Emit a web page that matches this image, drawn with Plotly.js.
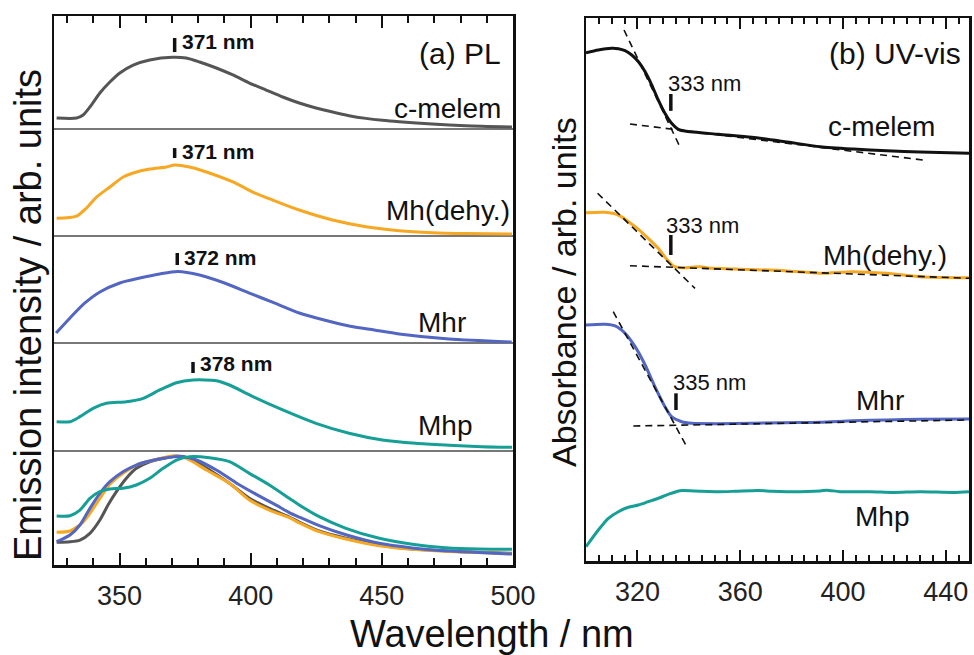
<!DOCTYPE html>
<html>
<head>
<meta charset="utf-8">
<script src="https://cdn.plot.ly/plotly-3.0.1.min.js"></script>
<style>html,body{margin:0;padding:0;background:#fff;}#chart{width:974px;height:655px;}</style>
</head>
<body>
<div id="chart"></div>
<script>
// ---------- (a) PL data : wavelength (nm) and emission intensity (arb. units, per strip) ----------
const plCmelemNm  = [326.0, 333.6, 336.1, 338.7, 342.5, 346.3, 350.1, 355.2, 361.5, 370.2, 375.4, 380.5, 386.9, 393.2, 399.5, 405.9, 412.2, 418.5, 424.9, 431.2, 437.5, 443.9, 450.2, 456.6, 469.2, 481.9, 499.6];
const plCmelemInt = [0.097, 0.097, 0.124, 0.195, 0.319, 0.416, 0.496, 0.566, 0.611, 0.635, 0.628, 0.593, 0.540, 0.478, 0.407, 0.345, 0.283, 0.230, 0.186, 0.150, 0.118, 0.094, 0.077, 0.064, 0.044, 0.029, 0.018];

const plMhdehyNm  = [326.0, 333.6, 337.4, 341.2, 346.3, 351.4, 355.2, 361.5, 367.9, 371.0, 376.7, 383.1, 393.2, 400.8, 408.4, 418.5, 431.2, 443.9, 456.6, 469.2, 481.9, 499.6];
const plMhdehyInt = [0.165, 0.185, 0.262, 0.364, 0.458, 0.551, 0.589, 0.626, 0.645, 0.664, 0.645, 0.598, 0.505, 0.411, 0.336, 0.243, 0.150, 0.087, 0.050, 0.031, 0.023, 0.019];

const plMhrNm  = [325.8, 331.1, 336.8, 342.5, 350.1, 357.7, 365.3, 372.1, 380.5, 390.0, 399.5, 409.0, 418.5, 428.0, 437.5, 447.1, 456.6, 475.6, 499.5];
const plMhrInt = [0.093, 0.234, 0.374, 0.477, 0.561, 0.607, 0.645, 0.668, 0.636, 0.561, 0.467, 0.374, 0.280, 0.215, 0.159, 0.121, 0.084, 0.037, 0.009];

const plMhpNm  = [326.0, 331.1, 334.9, 339.9, 345.0, 352.6, 359.0, 365.3, 371.7, 378.0, 386.9, 391.9, 399.5, 412.2, 424.9, 437.5, 450.2, 462.9, 475.6, 488.2, 499.6];
const plMhpInt = [0.271, 0.271, 0.318, 0.395, 0.442, 0.456, 0.488, 0.565, 0.632, 0.657, 0.651, 0.611, 0.519, 0.380, 0.256, 0.164, 0.102, 0.071, 0.054, 0.040, 0.034];

// normalised overlay (bottom strip)
const normCmelemNm  = [326.0, 331.1, 334.9, 338.7, 342.5, 345.6, 348.8, 352.6, 356.4, 361.5, 367.9, 371.7, 376.7, 384.3, 391.9, 399.5, 407.1, 414.7, 418.5, 426.1, 436.3, 449.0, 461.6, 474.3, 487.0, 499.6];
const normCmelemInt = [0.199, 0.204, 0.219, 0.278, 0.395, 0.526, 0.643, 0.761, 0.848, 0.906, 0.941, 0.956, 0.936, 0.833, 0.717, 0.585, 0.497, 0.421, 0.377, 0.298, 0.234, 0.175, 0.140, 0.123, 0.111, 0.103];
const normMhdehyNm  = [326.0, 331.1, 336.1, 338.7, 342.5, 346.3, 351.3, 356.4, 361.5, 366.6, 370.4, 375.5, 383.1, 391.9, 399.5, 407.1, 414.7, 418.5, 426.1, 436.3, 449.0, 461.6, 474.3, 499.6];
const normMhdehyInt = [0.287, 0.298, 0.375, 0.453, 0.585, 0.708, 0.804, 0.877, 0.912, 0.941, 0.956, 0.936, 0.833, 0.717, 0.570, 0.482, 0.415, 0.370, 0.292, 0.228, 0.169, 0.138, 0.120, 0.099];
const normMhrNm  = [326.0, 331.1, 334.9, 338.7, 342.5, 346.3, 351.3, 356.4, 361.5, 367.9, 374.2, 379.3, 386.9, 394.5, 402.1, 409.7, 414.7, 418.5, 426.1, 436.3, 449.0, 461.6, 474.3, 487.0, 499.6];
const normMhrInt = [0.204, 0.263, 0.351, 0.497, 0.629, 0.731, 0.818, 0.877, 0.912, 0.941, 0.950, 0.921, 0.833, 0.720, 0.620, 0.525, 0.460, 0.420, 0.345, 0.265, 0.190, 0.150, 0.125, 0.110, 0.096];
const normMhpNm  = [326.0, 331.1, 334.9, 338.7, 342.5, 346.3, 351.3, 356.4, 361.5, 366.6, 371.7, 376.7, 384.3, 391.9, 399.5, 407.1, 414.7, 418.5, 426.1, 436.3, 449.0, 461.6, 474.3, 487.0, 499.6];
const normMhpInt = [0.430, 0.432, 0.482, 0.585, 0.643, 0.667, 0.673, 0.702, 0.761, 0.848, 0.921, 0.950, 0.941, 0.906, 0.804, 0.702, 0.585, 0.526, 0.424, 0.322, 0.234, 0.182, 0.152, 0.140, 0.138];

const plSamples = ['c-melem', 'Mh(dehy.)', 'Mhr', 'Mhp'];
const plPeaks   = [371, 371, 372, 378];

// ---------- (b) UV-vis data : wavelength (nm) and absorbance (arb. units, offset) ----------
const uvCmelemNm  = [300.0, 304.8, 310.0, 312.6, 315.2, 317.8, 320.4, 323.0, 325.6, 328.1, 330.7, 333.3, 335.9, 338.5, 351.5, 364.5, 377.4, 391.1, 404.0, 417.0, 430.0, 449.0];
const uvCmelemAbs = [9.361, 9.411, 9.442, 9.435, 9.398, 9.319, 9.195, 9.011, 8.766, 8.490, 8.245, 8.061, 7.950, 7.919, 7.858, 7.803, 7.722, 7.630, 7.587, 7.556, 7.532, 7.508];
const uvMhdehyNm  = [300.0, 307.4, 312.6, 316.5, 320.4, 324.2, 328.1, 331.4, 334.0, 337.2, 341.1, 344.4, 347.6, 358.0, 377.4, 391.1, 404.0, 417.0, 430.0, 449.0];
const uvMhdehyAbs = [6.414, 6.422, 6.372, 6.249, 6.109, 5.943, 5.759, 5.556, 5.433, 5.401, 5.409, 5.420, 5.396, 5.378, 5.346, 5.298, 5.328, 5.298, 5.236, 5.217];
const uvMhrNm  = [300.0, 307.4, 311.3, 315.2, 319.1, 323.0, 326.8, 330.7, 333.3, 337.2, 341.1, 351.5, 377.4, 391.1, 404.0, 417.0, 430.0, 449.0];
const uvMhrAbs = [4.346, 4.359, 4.328, 4.193, 3.947, 3.610, 3.210, 2.842, 2.657, 2.565, 2.536, 2.529, 2.547, 2.554, 2.584, 2.597, 2.610, 2.615];
const uvMhpNm  = [300.0, 304.8, 308.7, 312.6, 316.5, 320.4, 324.2, 328.1, 332.0, 336.6, 342.4, 351.5, 358.0, 367.0, 372.3, 378.1, 391.1, 393.7, 398.8, 410.5, 419.6, 430.0, 442.9, 449.0];
const uvMhpAbs = [0.263, 0.571, 0.786, 0.908, 0.989, 1.031, 1.092, 1.155, 1.228, 1.295, 1.289, 1.276, 1.284, 1.300, 1.284, 1.276, 1.290, 1.305, 1.276, 1.276, 1.262, 1.276, 1.262, 1.276];

// tangent (onset) construction lines
const tanCmelemSteepNm = [314.8, 336.2], tanCmelemSteepAbs = [9.779, 7.661];
const tanCmelemFlatNm  = [317.1, 431.1], tanCmelemFlatAbs  = [8.048, 7.385];
const tanMhdehySteepNm = [304.5, 342.4], tanMhdehySteepAbs = [6.772, 5.022];
const tanMhdehyFlatNm  = [317.1, 449.0], tanMhdehyFlatAbs  = [5.438, 5.206];
const tanMhrSteepNm    = [310.6, 339.2], tanMhrSteepAbs    = [4.591, 2.105];
const tanMhrFlatNm     = [318.4, 449.0], tanMhrFlatAbs     = [2.486, 2.597];

const uvSamples = ['c-melem', 'Mh(dehy.)', 'Mhr', 'Mhp'];
const uvOnsets  = [333, 333, 335];

// ---------- styling ----------
const FONT = 'Liberation Sans, Arial, Helvetica, sans-serif';
const INK = '#111111';
const COL = {grey: '#555555', orange: '#F7A823', blue: '#5366C2', teal: '#169F96', black: '#111111'};
const W = 974, H = 655;
const px = v => v / W;
const py = v => 1 - v / H;

const line = (x, y, xa, ya, color) => ({
  x: x, y: y, xaxis: xa, yaxis: ya, mode: 'lines', hoverinfo: 'skip',
  line: {color: color, width: 3, shape: 'spline', smoothing: 0.7}
});
const dash = (x, y) => ({x: x, y: y, xaxis: 'x2', yaxis: 'y6', mode: 'lines', hoverinfo: 'skip',
  line: {color: INK, width: 1.6, dash: '7px,5px'}});

const traces = [
  line(plCmelemNm, plCmelemInt, 'x', 'y', COL.grey),
  line(plMhdehyNm, plMhdehyInt, 'x', 'y2', COL.orange),
  line(plMhrNm, plMhrInt, 'x', 'y3', COL.blue),
  line(plMhpNm, plMhpInt, 'x', 'y4', COL.teal),
  line(normCmelemNm, normCmelemInt, 'x', 'y5', COL.grey),
  line(normMhdehyNm, normMhdehyInt, 'x', 'y5', COL.orange),
  line(normMhrNm, normMhrInt, 'x', 'y5', COL.blue),
  line(normMhpNm, normMhpInt, 'x', 'y5', COL.teal),
  {x: [], y: [], xaxis: 'x3', yaxis: 'y', mode: 'lines', hoverinfo: 'skip'},
  line(uvCmelemNm, uvCmelemAbs, 'x2', 'y6', COL.black),
  line(uvMhdehyNm, uvMhdehyAbs, 'x2', 'y6', COL.orange),
  line(uvMhrNm, uvMhrAbs, 'x2', 'y6', COL.blue),
  line(uvMhpNm, uvMhpAbs, 'x2', 'y6', COL.teal),
  dash(tanCmelemSteepNm, tanCmelemSteepAbs), dash(tanCmelemFlatNm, tanCmelemFlatAbs),
  dash(tanMhdehySteepNm, tanMhdehySteepAbs), dash(tanMhdehyFlatNm, tanMhdehyFlatAbs),
  dash(tanMhrSteepNm, tanMhrSteepAbs), dash(tanMhrFlatNm, tanMhrFlatAbs),
  {x: [], y: [], xaxis: 'x4', yaxis: 'y6', mode: 'lines', hoverinfo: 'skip'}
];

const tickFont = {family: FONT, size: 27, color: '#222'};
const xBase = (dom, rng, t0, dt, mdt, len, mlen) => ({
  domain: dom, range: rng, ticks: 'inside', tick0: t0, dtick: dt, ticklen: len, tickwidth: 2, tickcolor: INK,
  minor: {dtick: mdt, ticks: 'inside', ticklen: mlen, tickwidth: 2, tickcolor: INK, showgrid: false},
  showline: true, linecolor: INK, linewidth: 2.5, showgrid: false, zeroline: false,
  tickfont: tickFont, ticklabelstandoff: 5, fixedrange: true
});
const yBase = (dom, rng, anchor) => ({
  domain: dom, range: rng, anchor: anchor, showline: true, mirror: true, linecolor: INK, linewidth: 2.5,
  ticks: '', showticklabels: false, showgrid: false, zeroline: false, fixedrange: true
});

const domA = [px(54), px(513)];
const domB = [px(586), px(969)];
const stripEdges = [16, 129, 236, 343, 451, 565];

const layout = {
  width: W, height: H, margin: {l: 0, r: 0, t: 0, b: 0},
  paper_bgcolor: '#fff', plot_bgcolor: 'rgba(0,0,0,0)', showlegend: false,
  xaxis: Object.assign(xBase(domA, [325, 500], 350, 50, 10, 12, 7), {anchor: 'y5'}),
  xaxis3: Object.assign(xBase(domA, [325, 500], 350, 50, 10, 12, 7), {anchor: 'y', side: 'top', showticklabels: false}),
  xaxis2: Object.assign(xBase(domB, [300, 449], 320, 40, 5, 11, 6), {anchor: 'y6'}),
  xaxis4: Object.assign(xBase(domB, [300, 449], 320, 40, 5, 11, 6), {anchor: 'y6', side: 'top', showticklabels: false}),
  yaxis:  yBase([py(stripEdges[1]), py(stripEdges[0])], [0, 1], 'x'),
  yaxis2: yBase([py(stripEdges[2]), py(stripEdges[1])], [0, 1], 'x'),
  yaxis3: yBase([py(stripEdges[3]), py(stripEdges[2])], [0, 1], 'x'),
  yaxis4: yBase([py(stripEdges[4]), py(stripEdges[3])], [0, 1], 'x'),
  yaxis5: yBase([py(stripEdges[5]), py(stripEdges[4])], [0, 1], 'x'),
  yaxis6: yBase([py(561), py(18)], [0, 10], 'x2'),
  shapes: [],
  annotations: []
};

// strip dividers
for (let i = 1; i <= 4; i++) {
  layout.shapes.push({type: 'line', xref: 'paper', yref: 'paper', x0: domA[0], x1: domA[1],
    y0: py(stripEdges[i]), y1: py(stripEdges[i]), line: {color: '#4a4a4a', width: 1.5}, layer: 'below'});
}

// PL peak markers and labels
const peakBar  = [[0.681, 0.805], [0.729, 0.822], [0.729, 0.841], [0.722, 0.824]];
const peakText = [0.775, 0.790, 0.800, 0.810];
const stripRefs = ['y', 'y2', 'y3', 'y4'];
plPeaks.forEach((p, i) => {
  layout.shapes.push({type: 'line', xref: 'x', yref: stripRefs[i], x0: p, x1: p,
    y0: peakBar[i][0], y1: peakBar[i][1], line: {color: INK, width: 3.5}});
  layout.annotations.push({x: p, y: peakText[i], xref: 'x', yref: stripRefs[i], xanchor: 'left', yanchor: 'middle',
    xshift: 5, showarrow: false, text: '<b>' + p + ' nm</b>', font: {family: FONT, size: 21, color: INK}});
});

// UV onset markers and labels
const onsetBar  = [[8.29, 8.60], [5.635, 6.004], [2.781, 3.088]];
const onsetText = [8.80, 6.17, 3.29];
const onsetShift = [-5, -7, -5];
uvOnsets.forEach((o, i) => {
  layout.shapes.push({type: 'line', xref: 'x2', yref: 'y6', x0: o, x1: o,
    y0: onsetBar[i][0], y1: onsetBar[i][1], line: {color: INK, width: 3.5}});
  layout.annotations.push({x: o, y: onsetText[i], xref: 'x2', yref: 'y6', xanchor: 'left', yanchor: 'middle',
    xshift: onsetShift[i], showarrow: false, text: o + ' nm', font: {family: FONT, size: 22, color: INK}});
});

const txt = (t, x, y, xa, size, extra) => Object.assign({
  x: x, y: y, xref: 'paper', yref: 'paper', xanchor: xa, yanchor: 'middle', showarrow: false, text: t,
  font: {family: FONT, size: size, color: INK}
}, extra || {});

layout.annotations.push(
  txt('(a) PL', px(503), py(54), 'right', 30),
  txt(plSamples[0], px(503), py(108), 'right', 28),
  txt(plSamples[1], px(512), py(211), 'right', 28),
  txt(plSamples[2], px(416), py(322), 'left', 28),
  txt(plSamples[3], px(416), py(425), 'left', 28),
  txt('(b) UV-vis', px(963), py(53), 'right', 30),
  txt(uvSamples[0], px(881), py(126), 'center', 28),
  txt(uvSamples[1], px(885), py(255), 'center', 28),
  txt(uvSamples[2], px(880), py(400), 'center', 28),
  txt(uvSamples[3], px(882), py(516), 'center', 28),
  txt('Wavelength / nm', px(492), py(634), 'center', 38),
  txt('Emission intensity / arb. units', px(28), py(315), 'center', 38, {textangle: -90}),
  txt('Absorbance / arb. units', px(564), py(292), 'center', 34, {textangle: -90})
);

Plotly.newPlot('chart', traces, layout, {staticPlot: true, displayModeBar: false});
</script>
</body>
</html>
